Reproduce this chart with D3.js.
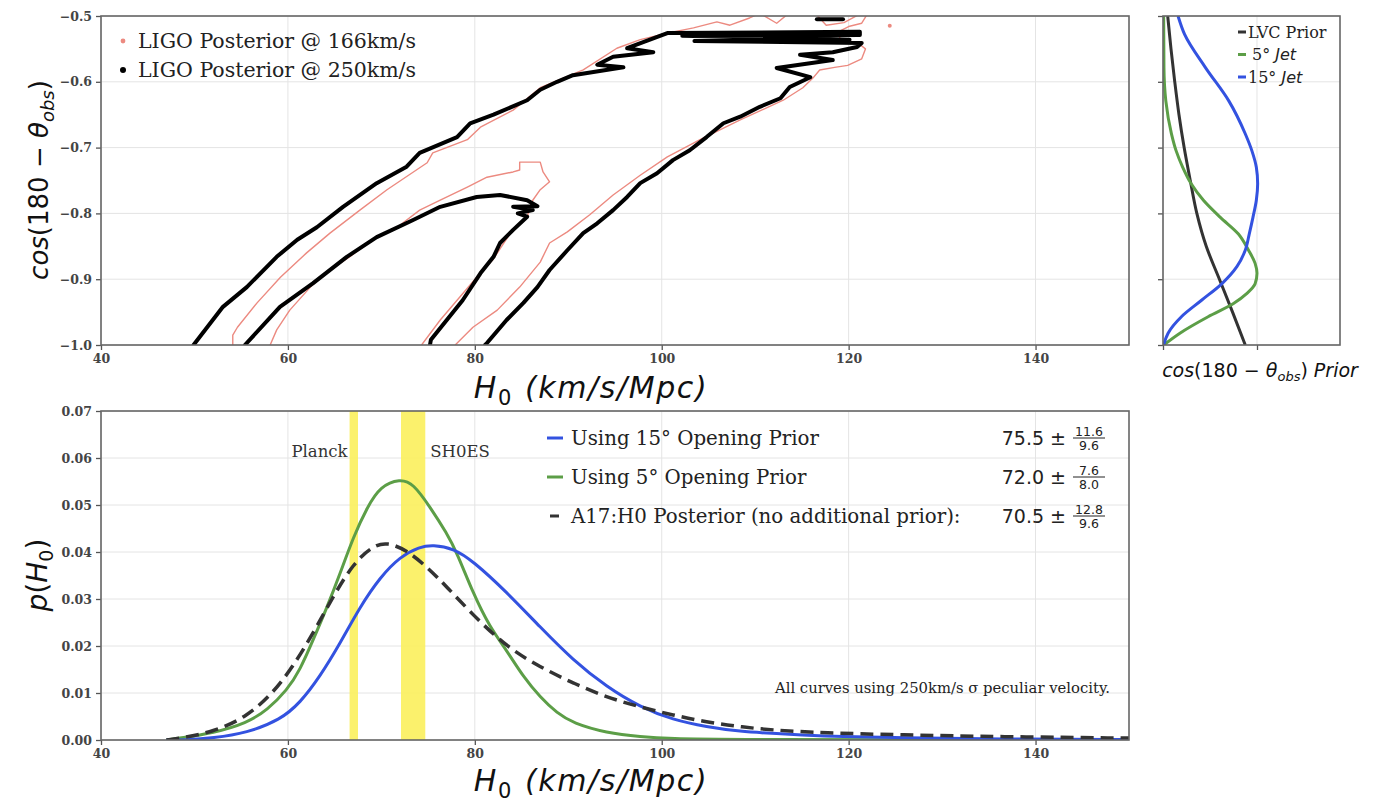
<!DOCTYPE html>
<html>
<head>
<meta charset="utf-8">
<script src="https://cdn.jsdelivr.net/npm/d3@7"></script>
<style>
  body { margin: 0; background: #fff; }
  svg { display: block; }
</style>
</head>
<body>
<svg id="fig" width="1380" height="803"></svg>
<script>
// ---------- axis ticks ----------
const h0Ticks = [40, 60, 80, 100, 120, 140];
const cosTicks = [-0.5, -0.6, -0.7, -0.8, -0.9, -1.0];
const pTicks = [0, 0.01, 0.02, 0.03, 0.04, 0.05, 0.06, 0.07];
const priorTicks = [0, 1];

// ---------- top panel: LIGO posterior contours [H0, cos(180 - theta_obs)] ----------
const ligo250Outer = [
  [49.9,-1.0],[53.05,-0.942],[55.6,-0.912],[58.8,-0.866],[61.0,-0.840],[63.1,-0.821],[65.9,-0.790],
  [69.5,-0.754],[72.7,-0.729],[74.1,-0.708],[78.1,-0.684],[79.5,-0.663],[82.0,-0.650],[85.6,-0.628],
  [87.0,-0.612],[88.8,-0.600],[90.5,-0.590],[95.9,-0.578],[93.1,-0.574],[94.8,-0.562],[99.1,-0.555],
  [96.3,-0.549],[100.6,-0.526],[121.2,-0.524],[121.2,-0.529],[102.2,-0.530],[120.1,-0.536],[103.5,-0.538],
  [121.4,-0.541],[120.9,-0.547],
  [118.3,-0.555],[114.8,-0.559],[118.3,-0.567],[112.3,-0.579],[115.9,-0.593],[113.7,-0.608],[112.7,-0.625],
  [110.5,-0.638],[108.4,-0.653],[106.6,-0.663],[104.8,-0.684],[103.0,-0.704],[101.2,-0.719],[99.5,-0.739],
  [97.7,-0.754],[96.3,-0.775],[94.8,-0.795],[93.1,-0.815],[91.6,-0.830],[89.9,-0.856],[88.0,-0.886],
  [86.7,-0.912],[85.2,-0.936],[83.4,-0.962],[81.3,-0.997],[81.1,-1.0]
];
const ligo250Inner = [
  [55.4,-1.0],[59.15,-0.942],[62.7,-0.906],[66.3,-0.866],[69.5,-0.836],[73.4,-0.810],[76.3,-0.790],
  [80.2,-0.775],[82.7,-0.772],[85.6,-0.780],[86.7,-0.789],[84.1,-0.790],[86.2,-0.795],[84.6,-0.800],
  [85.6,-0.805],[84.1,-0.825],[82.7,-0.845],[82.0,-0.866],[80.6,-0.891],[78.7,-0.932],[77.0,-0.962],
  [75.3,-0.992],[75.2,-1.0]
];
const ligo250Fragment = [[116.6,-0.505],[119.4,-0.505]];

const ligo166Outer = [
  [54.1,-1.0],[54.1,-0.985],[54.6,-0.973],[56.7,-0.936],[59.2,-0.897],[62.0,-0.860],[64.5,-0.830],
  [67.7,-0.795],[70.6,-0.764],[74.9,-0.723],[75.5,-0.708],[79.2,-0.688],[80.6,-0.669],[84.1,-0.643],
  [87.0,-0.609],[91.6,-0.582],[95.2,-0.549],[97.7,-0.536],[100.6,-0.526],[103.4,-0.518],[105.9,-0.509],
  [107.3,-0.514],[109.4,-0.503],[110.5,-0.496],[112.3,-0.511],[113.5,-0.497],[116.5,-0.497],[117.6,-0.514],
  [119.5,-0.510],[121.2,-0.497],[122.0,-0.497],[121.4,-0.511],[120.0,-0.516],[119.2,-0.522],[119.0,-0.536],
  [120.9,-0.540],[121.8,-0.550],[121.4,-0.565],[119.9,-0.575],[118.5,-0.578],[116.9,-0.582],[116.2,-0.594],
  [115.1,-0.609],[113.0,-0.628],[108.4,-0.658],[104.1,-0.688],[100.6,-0.714],[97.7,-0.742],[94.8,-0.772],
  [92.3,-0.802],[89.9,-0.828],[88.0,-0.845],[87.0,-0.874],[84.8,-0.912],[82.4,-0.947],[79.8,-0.973],[77.9,-1.0]
];
const ligo166Inner = [
  [58.1,-1.0],[58.8,-0.977],[60.2,-0.947],[62.4,-0.912],[64.5,-0.886],[66.6,-0.866],[69.1,-0.840],
  [71.7,-0.821],[74.1,-0.795],[76.3,-0.780],[79.2,-0.760],[81.3,-0.745],[84.1,-0.737],[84.8,-0.734],
  [84.8,-0.722],[87.0,-0.722],[87.3,-0.737],[88.0,-0.752],[87.0,-0.764],[86.2,-0.780],[85.6,-0.805],
  [83.8,-0.830],[81.9,-0.871],[80.2,-0.897],[78.1,-0.932],[76.3,-0.962],[74.3,-1.0]
];
const ligo166Islands = [[124.4,-0.515]];

const contourLegend = ["LIGO Posterior @ 166km/s", "LIGO Posterior @ 250km/s"];

// ---------- side panel: priors on cos(180 - theta_obs) [cos, density] ----------
const lvcPrior = [
  [-0.5,0.05],[-0.55,0.085],[-0.6,0.125],[-0.65,0.17],[-0.7,0.225],[-0.75,0.29],[-0.8,0.36],
  [-0.85,0.46],[-0.9,0.6],[-0.95,0.74],[-1.0,0.875]
];
const jet5Prior = [
  [-0.5,0.007],[-0.578,0.01],[-0.629,0.03],[-0.679,0.09],[-0.705,0.14],[-0.73,0.21],[-0.755,0.30],
  [-0.78,0.43],[-0.806,0.61],[-0.831,0.80],[-0.856,0.91],[-0.876,0.98],[-0.891,1.0],[-0.907,0.98],
  [-0.922,0.89],[-0.937,0.75],[-0.957,0.48],[-0.982,0.18],[-1.0,0.007]
];
const jet15Prior = [
  [-0.5,0.16],[-0.528,0.23],[-0.578,0.45],[-0.629,0.70],[-0.679,0.875],[-0.705,0.946],[-0.73,0.993],
  [-0.755,1.007],[-0.78,0.993],[-0.806,0.957],[-0.831,0.918],[-0.856,0.875],[-0.881,0.786],
  [-0.907,0.625],[-0.932,0.41],[-0.957,0.196],[-0.982,0.054],[-1.0,0.007]
];
const priorLegend = ["LVC Prior", "5°", "15°"];

// ---------- bottom panel: H0 posteriors [H0, p(H0)] ----------
const post15 = [
  [47,0],[49,0],[52,0.0004],[55.6,0.0015],[59.2,0.0043],[61.3,0.0079],[63.4,0.0134],[65.6,0.0206],[67.7,0.0283],
  [69.9,0.0347],[72.0,0.0390],[74.1,0.0411],[75.5,0.0415],[77.7,0.0408],[79.8,0.0381],[83.4,0.0315],
  [87.0,0.0240],[90.5,0.0170],[94.1,0.0113],[97.7,0.0070],[101.2,0.0043],[104.8,0.0028],[108.4,0.0018],
  [111.9,0.0014],[114.8,0.0011],[119.1,0.0007],[125.5,0.0005],[136,0.0002],[150,0.0001],[150,0.0001]
];
const post5 = [
  [47,0],[47,0],[48.5,0.0004],[52.0,0.0015],[55.6,0.0036],[57.8,0.0064],[59.9,0.0106],[61.3,0.0149],[62.7,0.0213],
  [64.2,0.0283],[65.6,0.0355],[67.0,0.0432],[68.5,0.0496],[69.9,0.0540],[72.0,0.0556],[73.4,0.0546],
  [75.2,0.0496],[77.0,0.0440],[78.1,0.0398],[79.8,0.0313],[81.6,0.0240],[83.4,0.0191],[85.2,0.0134],
  [87.0,0.0091],[88.8,0.0057],[90.5,0.0036],[94.1,0.0015],[97.7,0.0007],[101.2,0.0003],[106,0.0001],[150,0],[150,0]
];
const postA17 = [
  [47,0],[47,0],[48.5,0.0004],[52.0,0.0017],[55.6,0.0049],[58.4,0.0100],[60.5,0.0155],[62.7,0.0227],[64.8,0.0304],
  [67.0,0.0376],[69.1,0.0413],[70.6,0.0421],[72.7,0.0404],[74.9,0.0368],[77.0,0.0326],[79.8,0.0266],
  [83.4,0.0198],[87.0,0.0155],[90.5,0.0121],[94.1,0.0091],[97.7,0.0070],[101.2,0.0053],[104.8,0.0038],
  [108.4,0.0028],[111.9,0.0021],[117.3,0.0015],[125.5,0.0011],[136.2,0.0007],[150,0.0004],[150,0.0004]
];
const postLabels = ["Using 15° Opening Prior", "Using 5° Opening Prior", "A17:H0 Posterior (no additional prior):"];
const postMedians = [75.5, 72.0, 70.5];
const postErrPlus = [11.6, 7.6, 12.8];
const postErrMinus = [9.6, 8.0, 9.6];

const planckBand = [66.6, 67.5];
const shoesBand = [72.1, 74.7];
const bandLabels = ["Planck", "SH0ES"];
const noteText = "All curves using 250km/s σ peculiar velocity.";

// ---------- styling ----------
const SERIF = "'DejaVu Serif', serif";
const MATH = "'DejaVu Sans', sans-serif";
const BLUE = "#3352e0", GREEN = "#5c9e47", DARK = "#333333", SALMON = "#ec8a80";

const svg = d3.select("#fig");
svg.append("rect").attr("width", 1380).attr("height", 803).attr("fill", "#fff");
const defs = svg.append("defs");

// ---------- scales ----------
const xH0 = d3.scaleLinear().domain([40, 150]).range([101, 1129]);
const yCos = d3.scaleLinear().domain([-1, -0.5]).range([345, 16]);
const xPrior = d3.scaleLinear().domain([0, 1.883]).range([1163, 1340]);
const yP = d3.scaleLinear().domain([0, 0.07]).range([740, 411]);

function clip(id, xs, ys) {
  defs.append("clipPath").attr("id", id).append("rect")
    .attr("x", xs.range()[0]).attr("y", Math.min(...ys.range()))
    .attr("width", xs.range()[1] - xs.range()[0])
    .attr("height", Math.abs(ys.range()[1] - ys.range()[0]));
}

function grid(g, xs, ys, xt, yt) {
  const [y0, y1] = ys.range();
  const [x0, x1] = xs.range();
  g.append("g").selectAll("line").data(xt).join("line")
    .attr("x1", d => xs(d)).attr("x2", d => xs(d)).attr("y1", y0).attr("y2", y1)
    .attr("stroke", "#e4e4e4").attr("stroke-width", 1);
  g.append("g").selectAll("line").data(yt).join("line")
    .attr("y1", d => ys(d)).attr("y2", d => ys(d)).attr("x1", x0).attr("x2", x1)
    .attr("stroke", "#e4e4e4").attr("stroke-width", 1);
}

function styleAxis(sel) {
  sel.select(".domain").remove();
  sel.selectAll(".tick line").attr("stroke", "#555").attr("stroke-width", 1.3);
  sel.selectAll(".tick text").attr("font-family", SERIF).attr("font-size", 12.5)
    .attr("fill", "#444").attr("font-weight", "bold");
}

function frame(g, xs, ys) {
  g.append("rect")
    .attr("x", xs.range()[0]).attr("y", Math.min(...ys.range()))
    .attr("width", xs.range()[1] - xs.range()[0])
    .attr("height", Math.abs(ys.range()[1] - ys.range()[0]))
    .attr("fill", "none").attr("stroke", "#666").attr("stroke-width", 1.6);
}

// ================= TOP PANEL =================
const gTop = svg.append("g");
clip("clipTop", xH0, yCos);
grid(gTop, xH0, yCos, h0Ticks, cosTicks);

const contourLine = d3.line().x(d => xH0(d[0])).y(d => yCos(d[1]));
const cTop = gTop.append("g").attr("clip-path", "url(#clipTop)");
[ligo166Outer, ligo166Inner].forEach(c => {
  cTop.append("path").attr("d", contourLine(c)).attr("fill", "none")
    .attr("stroke", SALMON).attr("stroke-width", 1.4).attr("stroke-linejoin", "round");
});
cTop.selectAll(".island").data(ligo166Islands).join("circle")
  .attr("cx", d => xH0(d[0])).attr("cy", d => yCos(d[1])).attr("r", 2).attr("fill", SALMON);
[ligo250Outer, ligo250Inner, ligo250Fragment].forEach(c => {
  cTop.append("path").attr("d", contourLine(c)).attr("fill", "none")
    .attr("stroke", "#000").attr("stroke-width", 4).attr("stroke-linejoin", "round")
    .attr("stroke-linecap", "round");
});

gTop.append("g").attr("transform", "translate(0,345)")
  .call(d3.axisBottom(xH0).tickValues(h0Ticks).tickSize(5).tickPadding(4).tickFormat(d3.format("d")))
  .call(styleAxis);
gTop.append("g").attr("transform", "translate(101,0)")
  .call(d3.axisLeft(yCos).tickValues(cosTicks).tickSize(5).tickPadding(4).tickFormat(d3.format(".1f")))
  .call(styleAxis);
frame(gTop, xH0, yCos);

// legend of contours
const legTop = gTop.append("g");
contourLegend.forEach((t, i) => {
  const y = 41 + i * 29;
  legTop.append("circle").attr("cx", 123).attr("cy", y).attr("r", i === 0 ? 2.4 : 3)
    .attr("fill", i === 0 ? SALMON : "#000");
  legTop.append("text").attr("x", 138).attr("y", y + 7).attr("font-family", SERIF)
    .attr("font-size", 20.5).attr("fill", "#222").text(t);
});

// top y label
const ylT = svg.append("text").attr("transform", "translate(48,180) rotate(-90)")
  .attr("text-anchor", "middle").attr("font-family", MATH).attr("font-size", 26).attr("fill", "#111");
ylT.append("tspan").attr("font-style", "italic").text("cos");
ylT.append("tspan").text("(180 − ");
ylT.append("tspan").attr("font-style", "italic").text("θ");
ylT.append("tspan").attr("font-style", "italic").attr("font-size", 18).attr("dy", 6).text("obs");
ylT.append("tspan").attr("dy", -6).text(")");

function h0Label(y) {
  const t = svg.append("text").attr("x", 591).attr("y", y).attr("text-anchor", "middle")
    .attr("font-family", MATH).attr("font-size", 30).attr("fill", "#111").attr("font-style", "italic")
    .attr("letter-spacing", 1.6);
  t.append("tspan").text("H");
  t.append("tspan").attr("font-style", "normal").attr("font-size", 21).attr("dy", 7).text("0");
  t.append("tspan").attr("dy", -7).attr("dx", 12).text("(km/s/Mpc)");
}
h0Label(398);

// ================= SIDE PANEL =================
const gSide = svg.append("g");
clip("clipSide", xPrior, yCos);
grid(gSide, xPrior, yCos, priorTicks, cosTicks);
const priorLine = d3.line().curve(d3.curveMonotoneY).x(d => xPrior(d[1])).y(d => yCos(d[0]));
const cSide = gSide.append("g").attr("clip-path", "url(#clipSide)");
[[lvcPrior, DARK], [jet5Prior, GREEN], [jet15Prior, BLUE]].forEach(([data, col]) => {
  cSide.append("path").attr("d", priorLine(data)).attr("fill", "none")
    .attr("stroke", col).attr("stroke-width", 3);
});
gSide.append("g").attr("transform", "translate(0,345)")
  .call(d3.axisBottom(xPrior).tickValues(priorTicks).tickSize(5).tickFormat(""))
  .call(styleAxis);
gSide.append("g").attr("transform", "translate(1163,0)")
  .call(d3.axisLeft(yCos).tickValues(cosTicks).tickSize(5).tickFormat(""))
  .call(styleAxis);
frame(gSide, xPrior, yCos);

const legSide = gSide.append("g");
[DARK, GREEN, BLUE].forEach((col, i) => {
  const y = 32 + i * 22.5;
  legSide.append("line").attr("x1", 1238).attr("x2", 1246).attr("y1", y).attr("y2", y)
    .attr("stroke", col).attr("stroke-width", 3);
  const t = legSide.append("text").attr("x", i === 1 ? 1252 : 1248).attr("y", y + 5.5)
    .attr("font-family", SERIF).attr("font-size", 16).attr("fill", "#222");
  t.append("tspan").text(priorLegend[i]);
  if (i > 0) {
    t.append("tspan").attr("font-family", MATH).attr("font-style", "italic").text(" Jet");
  }
});

const xlS = svg.append("text").attr("x", 1260).attr("y", 377).attr("text-anchor", "middle")
  .attr("font-family", MATH).attr("font-size", 19).attr("fill", "#111").attr("font-style", "italic");
xlS.append("tspan").text("cos");
xlS.append("tspan").attr("font-style", "normal").text("(180 − ");
xlS.append("tspan").text("θ");
xlS.append("tspan").attr("font-size", 13).attr("dy", 4).text("obs");
xlS.append("tspan").attr("dy", -4).attr("font-style", "normal").text(")");
xlS.append("tspan").text(" Prior");

// ================= BOTTOM PANEL =================
const gBot = svg.append("g");
clip("clipBot", xH0, yP);
grid(gBot, xH0, yP, h0Ticks, pTicks);

const cBot = gBot.append("g").attr("clip-path", "url(#clipBot)");
[planckBand, shoesBand].forEach(b => {
  cBot.append("rect").attr("x", xH0(b[0])).attr("width", xH0(b[1]) - xH0(b[0]))
    .attr("y", 411).attr("height", 329).attr("fill", "#fbf05c").attr("opacity", 0.9);
});
cBot.append("text").attr("x", xH0(planckBand[0]) - 2).attr("y", 457).attr("text-anchor", "end")
  .attr("font-family", SERIF).attr("font-size", 16.5).attr("fill", "#333").text(bandLabels[0]);
cBot.append("text").attr("x", xH0(shoesBand[1]) + 5).attr("y", 457)
  .attr("font-family", SERIF).attr("font-size", 16.5).attr("fill", "#333").text(bandLabels[1]);

const postLine = d3.line().curve(d3.curveBasis).x(d => xH0(d[0])).y(d => yP(d[1]));
cBot.append("path").attr("d", postLine(post5)).attr("fill", "none").attr("stroke", GREEN).attr("stroke-width", 3);
cBot.append("path").attr("d", postLine(post15)).attr("fill", "none").attr("stroke", BLUE).attr("stroke-width", 3);
cBot.append("path").attr("d", postLine(postA17)).attr("fill", "none").attr("stroke", DARK)
  .attr("stroke-width", 3.5).attr("stroke-dasharray", "13,7");

cBot.append("text").attr("x", 1110).attr("y", 693).attr("text-anchor", "end")
  .attr("font-family", SERIF).attr("font-size", 14.8).attr("fill", "#222").text(noteText);

gBot.append("g").attr("transform", "translate(0,740)")
  .call(d3.axisBottom(xH0).tickValues(h0Ticks).tickSize(5).tickPadding(4).tickFormat(d3.format("d")))
  .call(styleAxis);
gBot.append("g").attr("transform", "translate(101,0)")
  .call(d3.axisLeft(yP).tickValues(pTicks).tickSize(5).tickPadding(4).tickFormat(d3.format(".2f")))
  .call(styleAxis);
frame(gBot, xH0, yP);

// legend with summary values
const legBot = gBot.append("g");
const legColors = [BLUE, GREEN, DARK];
postLabels.forEach((lab, i) => {
  const y = 438 + i * 39;
  legBot.append("line").attr("x1", i === 2 ? 550 : 547).attr("x2", i === 2 ? 559 : 563)
    .attr("y1", y).attr("y2", y).attr("stroke", legColors[i]).attr("stroke-width", 3);
  legBot.append("text").attr("x", 571).attr("y", y + 6.5).attr("font-family", SERIF)
    .attr("font-size", 19.8).attr("fill", "#222").text(lab);
  legBot.append("text").attr("x", 1066).attr("y", y + 6.5).attr("text-anchor", "end")
    .attr("font-family", MATH).attr("font-size", 19).attr("fill", "#222")
    .text(postMedians[i].toFixed(1) + " ±");
  const cx = 1089;
  legBot.append("text").attr("x", cx).attr("y", y - 2.5).attr("text-anchor", "middle")
    .attr("font-family", MATH).attr("font-size", 12.5).attr("fill", "#222").text(postErrPlus[i].toFixed(1));
  legBot.append("line").attr("x1", cx - 16).attr("x2", cx + 16).attr("y1", y).attr("y2", y)
    .attr("stroke", "#222").attr("stroke-width", 1);
  legBot.append("text").attr("x", cx).attr("y", y + 12).attr("text-anchor", "middle")
    .attr("font-family", MATH).attr("font-size", 12.5).attr("fill", "#222").text(postErrMinus[i].toFixed(1));
});

// bottom y label
const ylB = svg.append("text").attr("transform", "translate(47,575) rotate(-90)")
  .attr("text-anchor", "middle").attr("font-family", MATH).attr("font-size", 28).attr("fill", "#111")
  .attr("font-style", "italic");
ylB.append("tspan").text("p");
ylB.append("tspan").attr("font-style", "normal").text("(");
ylB.append("tspan").text("H");
ylB.append("tspan").attr("font-style", "normal").attr("font-size", 19).attr("dy", 6).text("0");
ylB.append("tspan").attr("font-style", "normal").attr("dy", -6).text(")");

h0Label(791);
</script>
</body>
</html>
